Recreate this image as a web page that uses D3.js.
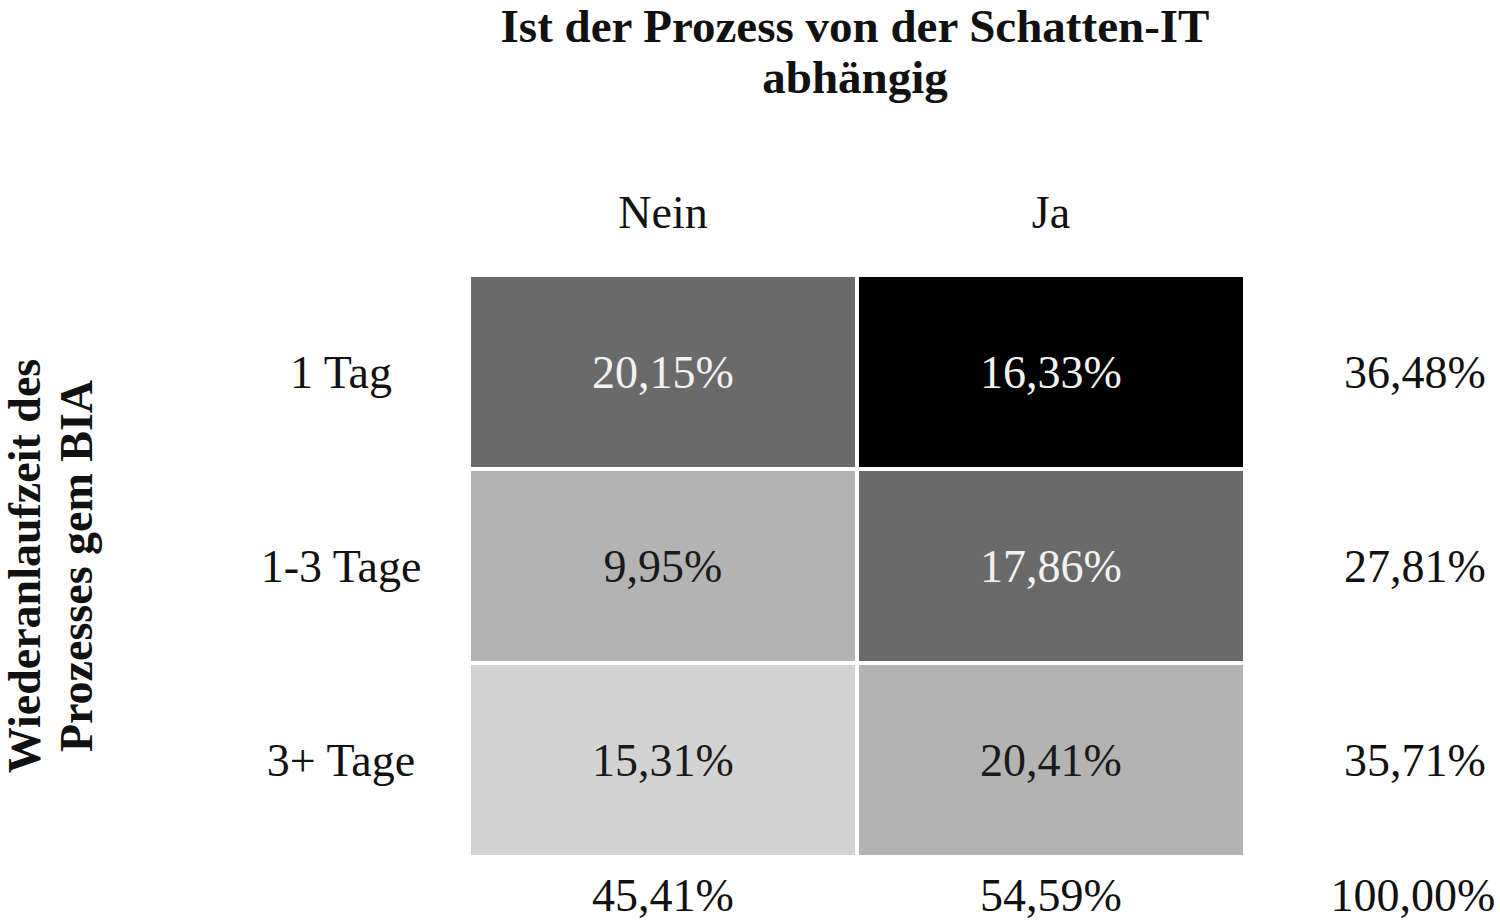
<!DOCTYPE html>
<html>
<head>
<meta charset="utf-8">
<script src="https://cdn.jsdelivr.net/npm/d3@7"></script>
<style>
  html, body { margin: 0; padding: 0; background: #fff; }
  svg { display: block; }
  text { font-family: "Liberation Serif", "Times New Roman", serif; }
</style>
</head>
<body>
<svg id="chart"></svg>
<script>
// data
const columns = ["Nein", "Ja"];
const rows = ["1 Tag", "1-3 Tage", "3+ Tage"];
const values = [
  [20.15, 16.33],
  [9.95, 17.86],
  [15.31, 20.41]
];
// shading level of each cell as in the original (0 = lightest)
const shade = [
  [2, 3],
  [1, 2],
  [0, 1]
];
const rowTotals = [36.48, 27.81, 35.71];
const colTotals = [45.41, 54.59];
const grandTotal = 100.00;
const titleLines = ["Ist der Prozess von der Schatten-IT", "abhängig"];
const yTitleLines = ["Wiederanlaufzeit des", "Prozesses gem BIA"];

const width = 1500, height = 924;
const fmt = v => d3.format(".2f")(v).replace(".", ",") + "%";

const svg = d3.select("#chart").attr("width", width).attr("height", height);

const x = d3.scaleBand().domain(columns).range([471, 1243]).paddingInner(0.0103);
const y = d3.scaleBand().domain(rows).range([277, 855]).paddingInner(0.0206);
const color = d3.scaleOrdinal().domain([0, 1, 2, 3]).range(["#d3d3d3", "#b3b3b3", "#6a6a6a", "#000000"]);
const textColor = d3.scaleOrdinal().domain([0, 1, 2, 3]).range(["#1a1a1a", "#1a1a1a", "#f2f2f2", "#f2f2f2"]);

const cells = [];
rows.forEach((r, i) => columns.forEach((c, j) => {
  cells.push({ row: r, col: c, value: values[i][j], level: shade[i][j] });
}));

// cells
svg.append("g").selectAll("rect")
  .data(cells)
  .enter()
  .append("rect")
  .attr("x", d => x(d.col))
  .attr("y", d => y(d.row))
  .attr("width", x.bandwidth())
  .attr("height", y.bandwidth())
  .attr("fill", d => color(d.level));

svg.append("g").selectAll("text")
  .data(cells)
  .enter()
  .append("text")
  .attr("x", d => x(d.col) + x.bandwidth() / 2)
  .attr("y", d => y(d.row) + y.bandwidth() / 2 + 16)
  .attr("text-anchor", "middle")
  .attr("font-size", 46)
  .attr("fill", d => textColor(d.level))
  .text(d => fmt(d.value));

// column headers
svg.append("g").selectAll("text")
  .data(columns)
  .enter()
  .append("text")
  .attr("x", d => x(d) + x.bandwidth() / 2)
  .attr("y", 228)
  .attr("text-anchor", "middle")
  .attr("font-size", 46)
  .attr("fill", "#111")
  .text(d => d);

// row labels
svg.append("g").selectAll("text")
  .data(rows)
  .enter()
  .append("text")
  .attr("x", 341)
  .attr("y", d => y(d) + y.bandwidth() / 2 + 16)
  .attr("text-anchor", "middle")
  .attr("font-size", 46)
  .attr("fill", "#111")
  .text(d => d);

// row totals
svg.append("g").selectAll("text")
  .data(rows)
  .enter()
  .append("text")
  .attr("x", 1415)
  .attr("y", d => y(d) + y.bandwidth() / 2 + 16)
  .attr("text-anchor", "middle")
  .attr("font-size", 46)
  .attr("fill", "#111")
  .text((d, i) => fmt(rowTotals[i]));

// column totals (kept just inside the bottom edge)
svg.append("g").selectAll("text")
  .data(columns)
  .enter()
  .append("text")
  .attr("x", d => x(d) + x.bandwidth() / 2)
  .attr("y", 911)
  .attr("text-anchor", "middle")
  .attr("font-size", 46)
  .attr("fill", "#111")
  .text((d, i) => fmt(colTotals[i]));

svg.append("text")
  .attr("x", 1413)
  .attr("y", 911)
  .attr("text-anchor", "middle")
  .attr("font-size", 46)
  .attr("fill", "#111")
  .text(fmt(grandTotal));

// title
svg.append("g").selectAll("text")
  .data(titleLines)
  .enter()
  .append("text")
  .attr("x", 855)
  .attr("y", (d, i) => 42 + i * 51)
  .attr("text-anchor", "middle")
  .attr("font-size", 47)
  .attr("font-weight", "bold")
  .attr("fill", "#111")
  .text(d => d);

// y axis title
svg.append("g")
  .attr("transform", "translate(0,566) rotate(-90)")
  .selectAll("text")
  .data(yTitleLines)
  .enter()
  .append("text")
  .attr("x", 0)
  .attr("y", (d, i) => 40 + i * 52)
  .attr("text-anchor", "middle")
  .attr("font-size", 46)
  .attr("font-weight", "bold")
  .attr("fill", "#111")
  .text(d => d);
</script>
</body>
</html>
